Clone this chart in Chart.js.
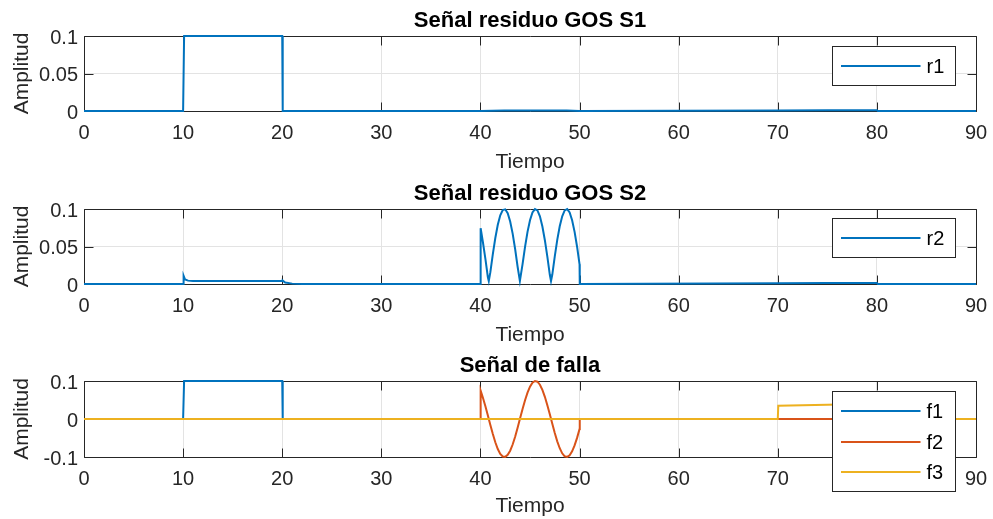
<!DOCTYPE html>
<html>
<head>
<meta charset="utf-8">
<script src="https://cdn.jsdelivr.net/npm/chart.js@4"></script>
<style>
  html, body { margin: 0; padding: 0; background: #ffffff; }
  body { width: 993px; height: 519px; position: relative; overflow: hidden; }
  canvas { position: absolute; left: 0; }
</style>
</head>
<body>
<canvas id="c1" width="993" height="175" style="top:0px"></canvas>
<canvas id="c2" width="993" height="175" style="top:173px"></canvas>
<canvas id="c3" width="993" height="174" style="top:345px"></canvas>
<script>
// ---- data ----
const panelTitles = ['Señal residuo GOS S1', 'Señal residuo GOS S2', 'Señal de falla'];
const xLabel = 'Tiempo';
const yLabel = 'Amplitud';
const xTicks = [0, 10, 20, 30, 40, 50, 60, 70, 80, 90];
const yTicksResidual = [0, 0.05, 0.1];
const yTicksFault = [-0.1, 0, 0.1];

// residual r1
const r1Time = [0, 10, 10.1, 20, 20.05, 40, 42.4, 45.5, 48.7, 50, 70, 75, 80, 80.1, 90];
const r1Vals = [0, 0, 0.1, 0.1, 0, 0, 0.0007, 0.0007, 0.0007, 0, 0.0008, 0.001, 0.0011, 0, 0];

// residual r2
const r2Time = [0, 10, 10.05, 10.2, 10.5, 11, 20, 20.05, 20.3, 21, 22, 40, 40.02,
  40.25, 40.5, 40.75, 40.84, 41, 41.25, 41.5, 41.75, 42, 42.25, 42.5, 42.75, 43, 43.25, 43.5, 43.75, 43.98,
  44.25, 44.5, 44.75, 45, 45.25, 45.5, 45.75, 46, 46.25, 46.5, 46.75, 47, 47.12,
  47.25, 47.5, 47.75, 48, 48.25, 48.5, 48.75, 49, 49.25, 49.5, 49.75, 50, 50.02, 70, 75, 80, 80.1, 90];
const r2Vals = [0, 0, 0.011, 0.006, 0.0045, 0.004, 0.004, 0.0045, 0.002, 0.0005, 0, 0, 0.0745,
  0.0557, 0.0334, 0.009, 0.004, 0.0158, 0.0397, 0.0613, 0.079, 0.0917, 0.0987, 0.0996, 0.0944, 0.0834, 0.0672, 0.0467, 0.023, 0.004,
  0.0265, 0.0495, 0.0695, 0.0851, 0.0954, 0.0999, 0.0981, 0.0902, 0.0767, 0.0584, 0.0364, 0.0123, 0.004,
  0.0126, 0.0368, 0.0588, 0.0769, 0.0903, 0.0981, 0.0998, 0.0953, 0.085, 0.0695, 0.0497, 0.0262, 0, 0.001, 0.0012, 0.0013, 0, 0];

// fault signals
const f1Time = [0, 10, 10.1, 20, 20.05, 90];
const f1Vals = [0, 0, 0.1, 0.1, 0, 0];

const f2Time = [0, 40, 40.02, 40.25, 40.5, 40.75, 41, 41.25, 41.5, 41.75, 42, 42.25, 42.5, 42.75, 43, 43.25, 43.5, 43.75, 44,
  44.25, 44.5, 44.75, 45, 45.25, 45.5, 45.75, 46, 46.25, 46.5, 46.75, 47, 47.25, 47.5, 47.75, 48, 48.25, 48.5, 48.75,
  49, 49.25, 49.5, 49.75, 50, 50.02, 90];
const f2Vals = [0, 0, 0.0745, 0.0557, 0.0334, 0.009, -0.0158, -0.0397, -0.0613, -0.079, -0.0917, -0.0987, -0.0996, -0.0944, -0.0834, -0.0672, -0.0467, -0.023, 0.0018,
  0.0265, 0.0495, 0.0695, 0.0851, 0.0954, 0.0999, 0.0981, 0.0902, 0.0767, 0.0584, 0.0364, 0.0123, -0.0126, -0.0368, -0.0588, -0.0769, -0.0903, -0.0981, -0.0998,
  -0.0953, -0.085, -0.0695, -0.0497, -0.0262, 0, 0];

const f3Time = [0, 70, 70.05, 75, 80, 80.05, 90];
const f3Vals = [0, 0, 0.035, 0.0375, 0.04, 0, 0];

// ---- styling ----
const FONT = '"Liberation Sans", Arial, Helvetica, sans-serif';
const AXIS_COLOR = '#262626';
const GRID_COLOR = '#e3e3e3';
const BLUE = '#0072BD', RED = '#D95319', YELLOW = '#EDB120';

const toPoints = (t, v) => t.map((x, i) => ({ x, y: v[i] }));

// bold panel title, centred over the plotting area
const panelTitlePlugin = {
  id: 'panelTitle',
  afterDraw(chart, args, opts) {
    const { ctx, chartArea: a } = chart;
    ctx.save();
    ctx.font = 'bold 22px ' + FONT;
    ctx.fillStyle = '#000000';
    ctx.textAlign = 'center';
    ctx.textBaseline = 'alphabetic';
    ctx.fillText(opts.text, (a.left + a.right) / 2, opts.baseline);
    ctx.restore();
  }
};

// axes box with inward tick marks
const framePlugin = {
  id: 'frame',
  beforeDatasetsDraw(chart, args, opts) {
    const { ctx, chartArea: a, scales } = chart;
    const x = scales.x, y = scales.y;
    const len = 9;
    const L = Math.round(a.left) + 0.5, R = Math.round(a.right) + 0.5;
    const T = Math.round(a.top) + 0.5, B = Math.round(a.bottom) + 0.5;
    ctx.save();
    ctx.strokeStyle = AXIS_COLOR;
    ctx.lineWidth = 1;
    ctx.beginPath();
    xTicks.forEach(v => {
      const px = Math.round(x.getPixelForValue(v)) + 0.5;
      ctx.moveTo(px, B); ctx.lineTo(px, B - len);
      ctx.moveTo(px, T); ctx.lineTo(px, T + len);
    });
    opts.yTicks.forEach(v => {
      const py = Math.round(y.getPixelForValue(v)) + 0.5;
      ctx.moveTo(L, py); ctx.lineTo(L + len, py);
      ctx.moveTo(R, py); ctx.lineTo(R - len, py);
    });
    ctx.moveTo(L, T); ctx.lineTo(R, T); ctx.lineTo(R, B); ctx.lineTo(L, B); ctx.closePath();
    ctx.stroke();
    ctx.restore();
  }
};

// boxed legend placed inside the axes, near the top-right corner
const boxLegendPlugin = {
  id: 'boxLegend',
  afterDraw(chart, args, opts) {
    const { ctx, chartArea: a } = chart;
    const ds = chart.data.datasets;
    const rowH = 30.5, padT = 4.5, padB = 4;
    const w = opts.width;
    const h = Math.round(padT + padB + ds.length * rowH);
    const x0 = Math.round(a.right - opts.right - w) + 0.5;
    const y0 = Math.round(a.top + opts.top) + 0.5;
    ctx.save();
    ctx.fillStyle = '#ffffff';
    ctx.fillRect(x0, y0, w, h);
    ctx.strokeStyle = AXIS_COLOR;
    ctx.lineWidth = 1;
    ctx.strokeRect(x0, y0, w, h);
    ctx.font = '20px ' + FONT;
    ctx.textBaseline = 'middle';
    ctx.textAlign = 'left';
    ds.forEach((d, i) => {
      const cy = Math.round(y0 + padT + rowH * i + rowH / 2);
      ctx.strokeStyle = d.borderColor;
      ctx.lineWidth = 2;
      ctx.beginPath();
      ctx.moveTo(x0 + 8.5, cy);
      ctx.lineTo(x0 + 88, cy);
      ctx.stroke();
      ctx.fillStyle = '#000000';
      ctx.fillText(d.label, x0 + 94, cy + 1);
    });
    ctx.restore();
  }
};

function makeChart(id, title, datasets, yTicks, yMin, yMax, legendTop, xHeight) {
  datasets.forEach(d => { d.clip = 4; });
  return new Chart(document.getElementById(id), {
    type: 'line',
    data: { datasets },
    plugins: [framePlugin, boxLegendPlugin, panelTitlePlugin],
    options: {
      responsive: false,
      animation: false,
      events: [],
      layout: { padding: { left: 0, right: 17, top: 36, bottom: 0 } },
      elements: { point: { radius: 0 }, line: { tension: 0, borderWidth: 2 } },
      plugins: {
        legend: { display: false },
        tooltip: { enabled: false },
        title: { display: false },
        panelTitle: { text: title, baseline: 27 },
        frame: { yTicks },
        boxLegend: { width: 123, right: 21, top: legendTop }
      },
      scales: {
        x: {
          type: 'linear',
          min: 0, max: 90,
          afterBuildTicks: s => { s.ticks = xTicks.map(v => ({ value: v })); },
          afterFit: s => { s.height = xHeight; s.paddingLeft = 0; s.paddingRight = 0; },
          grid: { color: GRID_COLOR, drawTicks: false },
          border: { display: false },
          ticks: {
            color: AXIS_COLOR,
            padding: 10,
            maxRotation: 0,
            font: { family: FONT, size: 20 },
            callback: v => String(v)
          },
          title: {
            display: true, text: xLabel, color: AXIS_COLOR,
            font: { family: FONT, size: 21 },
            padding: { top: 0, bottom: 0 }
          }
        },
        y: {
          type: 'linear',
          min: yMin, max: yMax,
          afterBuildTicks: s => { s.ticks = yTicks.map(v => ({ value: v })); },
          afterFit: s => { s.width = 84; s.paddingTop = 0; s.paddingBottom = 0; },
          grid: { color: GRID_COLOR, drawTicks: false },
          border: { display: false },
          ticks: {
            color: AXIS_COLOR,
            padding: 6,
            labelOffset: 2,
            font: { family: FONT, size: 20 },
            callback: v => String(v)
          },
          title: {
            display: true, text: yLabel, color: AXIS_COLOR,
            font: { family: FONT, size: 21 },
            padding: { top: 10, bottom: 0 }
          }
        }
      }
    }
  });
}

makeChart('c1', panelTitles[0], [
  { label: 'r1', data: toPoints(r1Time, r1Vals), borderColor: BLUE }
], yTicksResidual, 0, 0.1, 10, 64);

makeChart('c2', panelTitles[1], [
  { label: 'r2', data: toPoints(r2Time, r2Vals), borderColor: BLUE }
], yTicksResidual, 0, 0.1, 9, 64);

makeChart('c3', panelTitles[2], [
  { label: 'f1', data: toPoints(f1Time, f1Vals), borderColor: BLUE, order: 3 },
  { label: 'f2', data: toPoints(f2Time, f2Vals), borderColor: RED, order: 2 },
  { label: 'f3', data: toPoints(f3Time, f3Vals), borderColor: YELLOW, order: 1 }
], yTicksFault, -0.1, 0.1, 10, 62);
</script>
</body>
</html>
